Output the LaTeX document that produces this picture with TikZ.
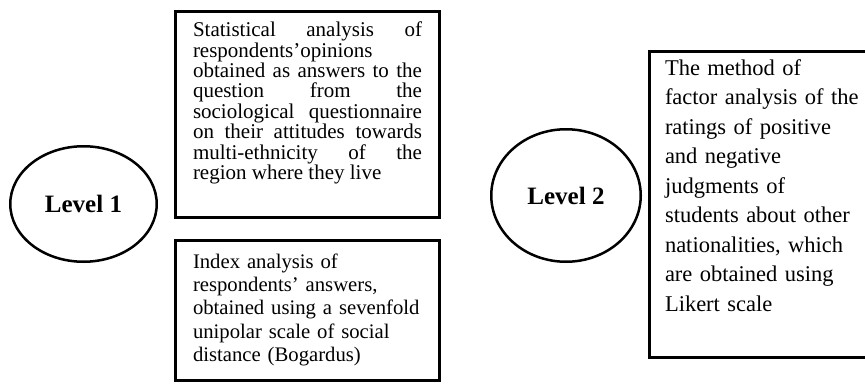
\documentclass[tikz,border=0pt]{standalone}
\usepackage{fontspec}
\setmainfont{Liberation Serif}
\usetikzlibrary{positioning, shapes.geometric}

\begin{document}
\begin{tikzpicture}[
    x=1pt, y=1pt,
    node distance=20pt,
    level/.style={ellipse, draw, line width=2.5pt, inner sep=0pt, font=\fontsize{25pt}{30pt}\selectfont\bfseries},
    method/.style={rectangle, draw, line width=3pt, inner xsep=17.5pt, inner ysep=6pt},
    % Level 1 boxes
    lone/.style={method, text width=229pt, font=\fontsize{21pt}{20.4pt}\selectfont},
    % Level 2 box
    ltwo/.style={method, align=left, inner xsep=15.5pt, text width=200pt, font=\fontsize{22.5pt}{29.5pt}\selectfont}
]
    \useasboundingbox (0,0) rectangle (865,-383);

    % --- Nodes ---
    \node[level, minimum width=146.5pt, minimum height=115.5pt] (lev1) at (83.5,-204) {Level 1};

    \node[lone, align=justify, anchor=north west, text height=19.2pt, text depth=174.8pt] (stat) at (174,-10)
        {Statistical analysis of\linebreak respondents'opinions\linebreak obtained as answers to the\linebreak question from the\linebreak sociological questionnaire\linebreak on their attitudes towards\linebreak multi-ethnicity of the\linebreak region where they live};
    \node[lone, align=left, below=20pt of stat, font=\fontsize{20.7pt}{23.4pt}\selectfont, text height=21.5pt, text depth=106.5pt] (index)
        {Index analysis of\\ respondents' answers,\\ obtained using a sevenfold\\ unipolar scale of social\\ distance (Bogardus)};

    \node[level, minimum width=149.5pt, minimum height=132.5pt] (lev2) at (566,-195.5) {Level 2};

    \node[ltwo, anchor=north west, text height=17.5pt, text depth=276.5pt] (factor) at (648,-50)
        {The method of\\ factor analysis of the\\ ratings of positive\\ and negative\\ judgments of\\ students about other\\ nationalities, which\\ are obtained using\\ Likert scale};

\end{tikzpicture}
\end{document}
